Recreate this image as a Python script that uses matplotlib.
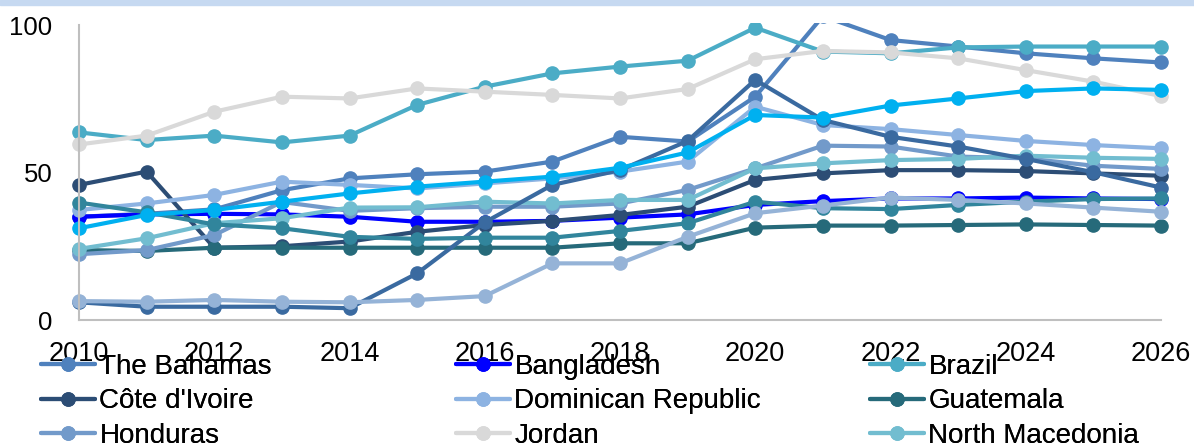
import matplotlib.pyplot as plt
from matplotlib.patches import Rectangle

plt.rcParams['font.family'] = ['Liberation Sans', 'DejaVu Sans']

years = list(range(2010, 2027))

bahamas = [35.0, 36.0, 37.5, 44.0, 48.0, 49.4, 50.3, 53.7, 62.1, 60.5, 75.7, 103.0, 94.9, 92.7, 90.4, 88.7, 87.3]
bangladesh = [35.0, 35.8, 36.0, 35.8, 35.0, 33.3, 33.3, 33.6, 34.7, 35.8, 39.0, 40.3, 41.2, 41.2, 41.5, 41.2, 41.0]
brazil = [63.6, 61.0, 62.5, 60.2, 62.5, 72.9, 79.1, 83.6, 85.9, 87.9, 99.1, 91.0, 90.4, 92.4, 92.7, 92.7, 92.7]
cote_divoire = [45.8, 50.3, 24.5, 25.0, 26.6, 29.9, 32.2, 33.6, 35.6, 38.4, 47.5, 49.7, 50.8, 50.8, 50.5, 49.7, 48.9]
dominican_rep = [37.3, 39.5, 42.4, 46.9, 45.8, 44.6, 46.3, 48.0, 50.3, 53.7, 72.3, 66.1, 64.7, 62.7, 60.7, 59.3, 58.2]
guatemala = [23.7, 23.4, 24.5, 24.5, 24.5, 24.5, 24.5, 24.5, 26.0, 26.0, 31.3, 32.0, 32.0, 32.2, 32.4, 32.2, 32.0]
honduras = [22.3, 23.7, 28.8, 40.0, 37.0, 37.9, 38.4, 38.4, 39.5, 44.1, 51.4, 59.1, 58.8, 55.4, 54.8, 52.3, 51.2]
jordan = [59.5, 62.5, 70.6, 75.7, 75.1, 78.5, 77.4, 76.3, 75.1, 78.3, 88.4, 91.2, 90.7, 88.7, 84.7, 80.8, 75.9]
north_macedonia = [24.1, 27.7, 32.8, 34.5, 38.1, 38.2, 40.1, 39.5, 40.7, 40.7, 51.4, 53.1, 54.2, 54.6, 55.7, 55.0, 54.6]
# the last legend rows are cut off in the picture, names unknown
series_10 = [6.0, 4.5, 4.5, 4.5, 4.0, 15.8, 33.1, 45.8, 50.8, 60.7, 81.4, 67.8, 62.1, 58.8, 54.6, 50.1, 44.9]
series_11 = [39.8, 36.5, 32.4, 31.1, 28.2, 27.5, 27.9, 27.9, 30.2, 32.8, 40.1, 37.9, 37.6, 39.0, 40.1, 41.0, 41.2]
series_12 = [6.4, 6.2, 6.8, 6.2, 6.0, 6.8, 8.1, 19.2, 19.2, 28.2, 36.2, 38.8, 41.5, 40.7, 39.5, 38.1, 36.7]
series_13 = [31.1, 35.6, 37.3, 40.1, 42.9, 45.2, 46.9, 48.6, 51.6, 56.8, 69.5, 68.6, 72.7, 75.1, 77.6, 78.5, 78.0]

names = ['The Bahamas', 'Bangladesh', 'Brazil', "Côte d'Ivoire", 'Dominican Republic',
         'Guatemala', 'Honduras', 'Jordan', 'North Macedonia',
         'Series 10', 'Series 11', 'Series 12', 'Series 13']
values = [bahamas, bangladesh, brazil, cote_divoire, dominican_rep, guatemala, honduras,
          jordan, north_macedonia, series_10, series_11, series_12, series_13]
colors = ['#4f81bd', '#0000ff', '#4bacc6', '#2c4d75', '#8db3e2', '#266a7a', '#729aca',
          '#d9d9d9', '#72bdd0', '#3a6aa0', '#31859c', '#95b3d7', '#00b0f0']

fig = plt.figure(figsize=(11.94, 4.47), dpi=100)
ax = fig.add_axes([79 / 1194, 1 - 320 / 447, (1161 - 79) / 1194, 295 / 447])

# clip at the top of the plot only, so edge markers stay whole
clip = Rectangle((-0.05, -0.1), 1.1, 1.108, transform=ax.transAxes, visible=False)
ax.add_patch(clip)

lines = []
for name, v, c in zip(names, values, colors):
    ln, = ax.plot(years, v, color=c, linewidth=3, marker='o', markersize=9.5,
                  label=name, solid_capstyle='round')
    ln.set_clip_path(clip)
    lines.append(ln)

ax.set_xlim(2010, 2026)
ax.set_ylim(0, 100)
ax.set_xticks(range(2010, 2027, 2))
ax.set_yticks([0, 50, 100])
ax.tick_params(length=0)
ax.tick_params(axis='x', pad=15, labelsize=19.5)
ax.tick_params(axis='y', pad=19, labelsize=18.5)
for s in ['top', 'right']:
    ax.spines[s].set_visible(False)
for s in ['left', 'bottom']:
    ax.spines[s].set_color('#bfbfbf')
    ax.spines[s].set_linewidth(1.5)

# legend: 3 columns filled row by row, drawn as three separate legends
col_x = [41 / 1194, 456 / 1194, 870 / 1194]
for i in range(3):
    leg = fig.legend(handles=lines[i::3], loc='upper left', bbox_to_anchor=(col_x[i], 1 - 354 / 447),
                     frameon=False, fontsize=20, handlelength=1.95, handletextpad=0.15,
                     labelspacing=0.3, borderpad=0, borderaxespad=0)
    fig.add_artist(leg)

# title band, cut off at the top of the picture
fig.add_artist(Rectangle((0, 1 - 5 / 447), 1, 5 / 447, transform=fig.transFigure,
                         color='#c6d9f1', zorder=0))

plt.savefig('out.png', dpi=100)
